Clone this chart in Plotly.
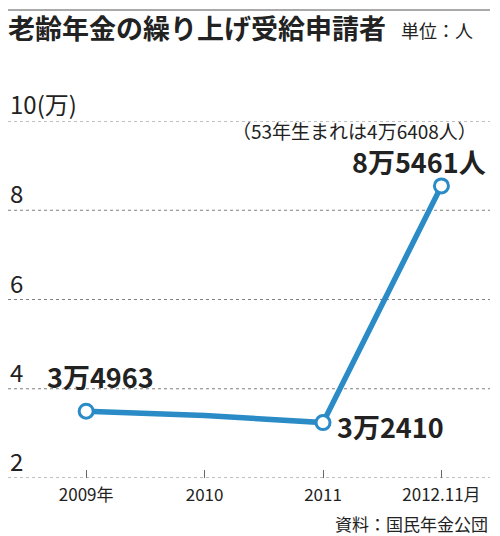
import plotly.graph_objects as go

# data
years = ["2009年", "2010", "2011", "2012.11月"]
applicants = [34963, 34000, 32410, 85461]
labelled = [True, False, True, True]
born_53 = 46408

y_ticks = [2, 4, 6, 8, 10]
y_tick_text = ["2", "4", "6", "8", "10(万)"]

title_text = "老齢年金の繰り上げ受給申請者"
unit_text = "単位：人"
source_text = "資料：国民年金公団"

BLUE = "#2a8bc7"
FONT = "Noto Sans CJK JP"
INK = "#222222"

# plot area runs from px 121 (top) to px 478 (bottom)
PLOT_TOP, PLOT_BOTTOM = 121, 478


def py(px):
    # page pixel row -> paper y
    return (PLOT_BOTTOM - px) / (PLOT_BOTTOM - PLOT_TOP)


def man(v):
    return f"{v // 10000}万{v % 10000}"


vals = [v / 10000 for v in applicants]

fig = go.Figure()

fig.add_trace(
    go.Scatter(
        x=years,
        y=vals,
        mode="lines",
        line=dict(color=BLUE, width=5.5),
        hoverinfo="skip"
    )
)

fig.add_trace(
    go.Scatter(
        x=[x for x, m in zip(years, labelled) if m],
        y=[v for v, m in zip(vals, labelled) if m],
        mode="markers",
        marker=dict(size=14, color="white", line=dict(color=BLUE, width=3)),
        hoverinfo="skip"
    )
)

annotations = []
shapes = []

# dashed gridlines with their labels sitting on top, at the left edge
for t, txt in zip(y_ticks, y_tick_text):
    shapes.append(dict(
        type="line", xref="paper", yref="y",
        x0=0, x1=1, y0=t, y1=t, layer="below",
        line=dict(color="#808080", width=1, dash="3px,3px")
    ))
    annotations.append(dict(
        x=0, y=t, xref="paper", yref="y",
        text=txt, showarrow=False,
        xanchor="left", yanchor="bottom",
        xshift=0, yshift=-2,
        font=dict(family=FONT, size=24, color=INK)
    ))

# data labels (x given as category index: "2011" would be read as a number)
label_style = [
    dict(xanchor="center", yanchor="middle", xshift=14, yshift=35, suffix=""),
    None,
    dict(xanchor="left", yanchor="middle", xshift=12, yshift=-4, suffix=""),
    dict(xanchor="right", yanchor="middle", xshift=47, yshift=24, suffix="人"),
]
for i, (v, v_raw, st) in enumerate(zip(vals, applicants, label_style)):
    if st is None:
        continue
    annotations.append(dict(
        x=i, y=v, xref="x", yref="y",
        text="<b>" + man(v_raw) + st["suffix"] + "</b>", showarrow=False,
        xanchor=st["xanchor"], yanchor=st["yanchor"],
        xshift=st["xshift"], yshift=st["yshift"],
        font=dict(family=FONT, size=27, color=INK)
    ))

annotations.append(dict(
    x=len(years) - 1, y=vals[-1], xref="x", yref="y",
    text="（53年生まれは" + man(born_53) + "人）", showarrow=False,
    xanchor="right", yanchor="middle", xshift=38, yshift=55,
    font=dict(family=FONT, size=19, color=INK)
))

annotations.append(dict(
    x=1 - 15 / 482, y=py(30), xref="paper", yref="paper",
    text=unit_text, showarrow=False, xanchor="right", yanchor="middle",
    font=dict(family=FONT, size=18, color=INK)
))

annotations.append(dict(
    x=1, y=py(523), xref="paper", yref="paper",
    text=source_text, showarrow=False, xanchor="right", yanchor="middle",
    font=dict(family=FONT, size=17, color=INK)
))

# thin rule above the title
shapes.append(dict(
    type="line", xref="paper", yref="paper",
    x0=0, x1=1, y0=py(10), y1=py(10),
    line=dict(color="#555555", width=1)
))

fig.update_layout(
    width=500,
    height=536,
    paper_bgcolor="white",
    plot_bgcolor="white",
    showlegend=False,
    margin=dict(l=8, r=10, t=PLOT_TOP, b=536 - PLOT_BOTTOM),
    title=dict(
        text="<b>" + title_text + "</b>",
        x=8 / 500, xref="container", xanchor="left",
        y=1 - 30 / 536, yref="container", yanchor="middle",
        font=dict(family=FONT, size=27, color=INK)
    ),
    xaxis=dict(
        type="category",
        range=[-0.66, 3.41],
        showgrid=False,
        zeroline=False,
        showline=False,
        ticks="inside",
        ticklen=8,
        tickwidth=1,
        tickcolor="#666666",
        ticklabelstandoff=5,
        tickfont=dict(family=FONT, size=17, color=INK),
        fixedrange=True
    ),
    yaxis=dict(
        range=[2, 10],
        showticklabels=False,
        showgrid=False,
        zeroline=False,
        showline=False,
        fixedrange=True
    ),
    annotations=annotations,
    shapes=shapes
)

fig.write_html(
    "out.html",
    config={"displayModeBar": False},
    post_script="document.body.style.margin='0';"
)
